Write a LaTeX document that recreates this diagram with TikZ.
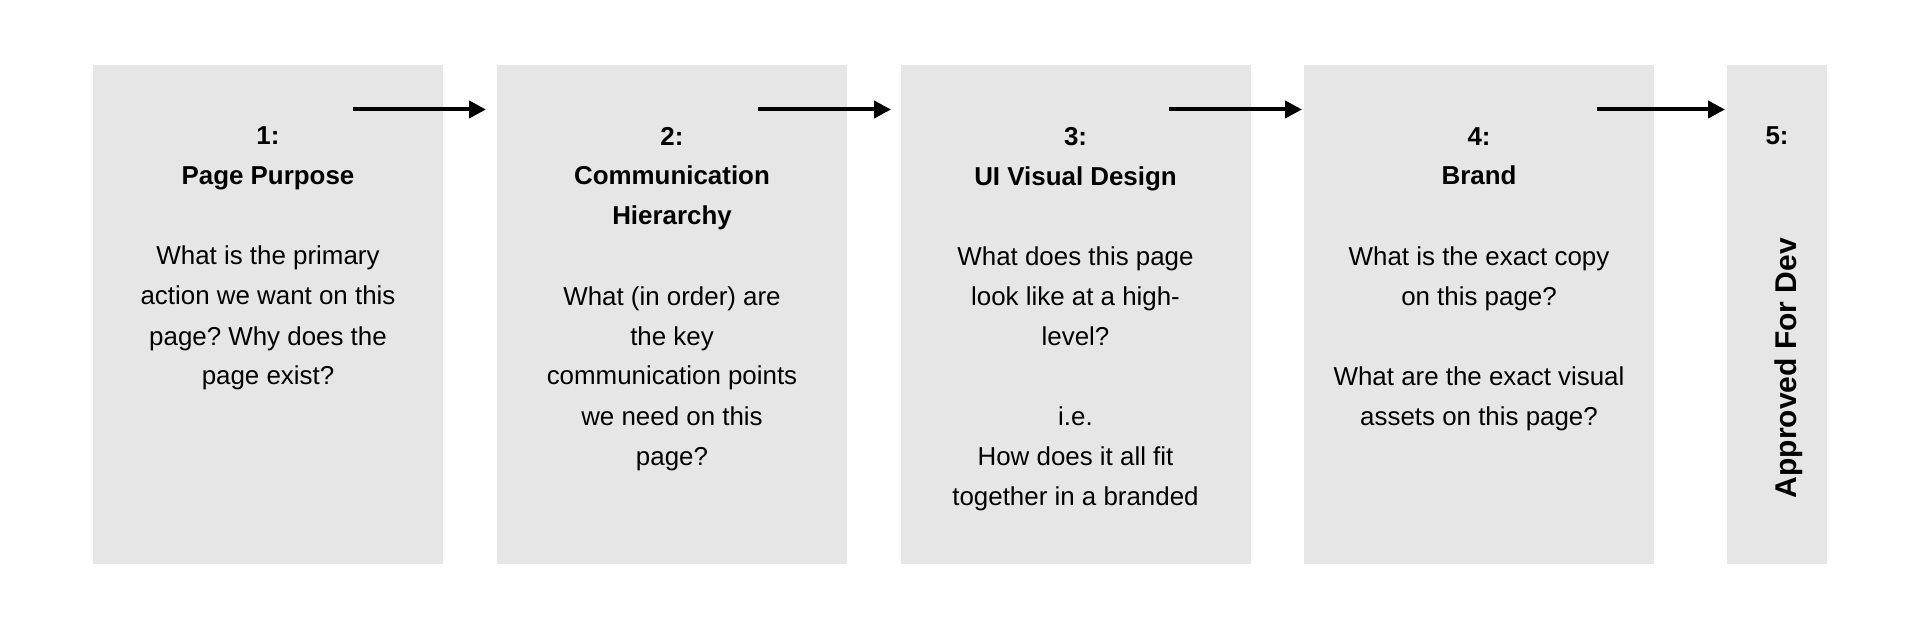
\documentclass[tikz,border=0pt]{standalone}
\usepackage{fontspec}
\setmainfont{Liberation Sans}
\usetikzlibrary{positioning, arrows.meta}
\frenchspacing

\definecolor{stagegray}{HTML}{E6E6E6}
\newcommand{\topstrut}{\rule{0pt}{15pt}}

\begin{document}
\begin{tikzpicture}[x=0.5pt, y=-0.5pt,
        stage/.style={fill=stagegray, draw=none, inner sep=0pt, minimum height=249.5pt},
        stagetext/.style={inner sep=0pt, align=center, anchor=north, font=\fontsize{12.95}{20}\selectfont},
        flow/.style={-{Triangle[length=8.5pt, width=8.5pt]}, line width=2pt}]
        % 画布范围
        \useasboundingbox (0, 0) rectangle (1920, 630);

        % 五个阶段的灰色方框
        \node[stage, minimum width=175pt] (s1) at (268, 314.5) {};
        \node[stage, minimum width=175pt] (s2) at (672, 314.5) {};
        \node[stage, minimum width=175pt] (s3) at (1075.5, 314.5) {};
        \node[stage, minimum width=175pt] (s4) at (1479, 314.5) {};
        \node[stage, minimum width=50pt] (s5) at (1777, 314.5) {};

        % 方框内的文字
        \node[stagetext, below=25pt of s1.north] (t1) {\topstrut\textbf{1:}\\ \textbf{Page Purpose}\\[20pt]
            What is the primary\\ action we want on this\\ page? Why does the\\ page exist?};
        \node[stagetext, below=25pt of s2.north] (t2) {\topstrut\textbf{2:}\\ \textbf{Communication}\\ \textbf{Hierarchy}\\[20pt]
            What (in order) are\\ the key\\ communication points\\ we need on this\\ page?};
        \node[stagetext, below=25pt of s3.north] (t3) {\topstrut\textbf{3:}\\ \textbf{UI Visual Design}\\[20pt]
            What does this page\\ look like at a high-\\ level?\\[20pt] i.e.\\ How does it all fit\\ together in a branded};
        \node[stagetext, below=25pt of s4.north] (t4) {\topstrut\textbf{4:}\\ \textbf{Brand}\\[20pt]
            What is the exact copy\\ on this page?\\[20pt] What are the exact visual\\ assets on this page?};
        \node[stagetext, below=25pt of s5.north] (t5) {\topstrut\textbf{5:}};
        \node[rotate=90, anchor=base, inner sep=0pt, font=\bfseries\fontsize{15}{18}\selectfont] (t5b) at (1796, 368) {Approved For Dev};

        % 箭头的起点和终点
        \coordinate (a1) at (353, 109.5);
        \coordinate (b1) at (486, 109.5);
        \coordinate (a2) at (758, 109.5);
        \coordinate (b2) at (891, 109.5);
        \coordinate (a3) at (1169, 109.5);
        \coordinate (b3) at (1302, 109.5);
        \coordinate (a4) at (1597, 109.5);
        \coordinate (b4) at (1725, 109.5);

        % 阶段之间的箭头
        \draw[flow] (a1) -- (b1);
        \draw[flow] (a2) -- (b2);
        \draw[flow] (a3) -- (b3);
        \draw[flow] (a4) -- (b4);
    \end{tikzpicture}
\end{document}
